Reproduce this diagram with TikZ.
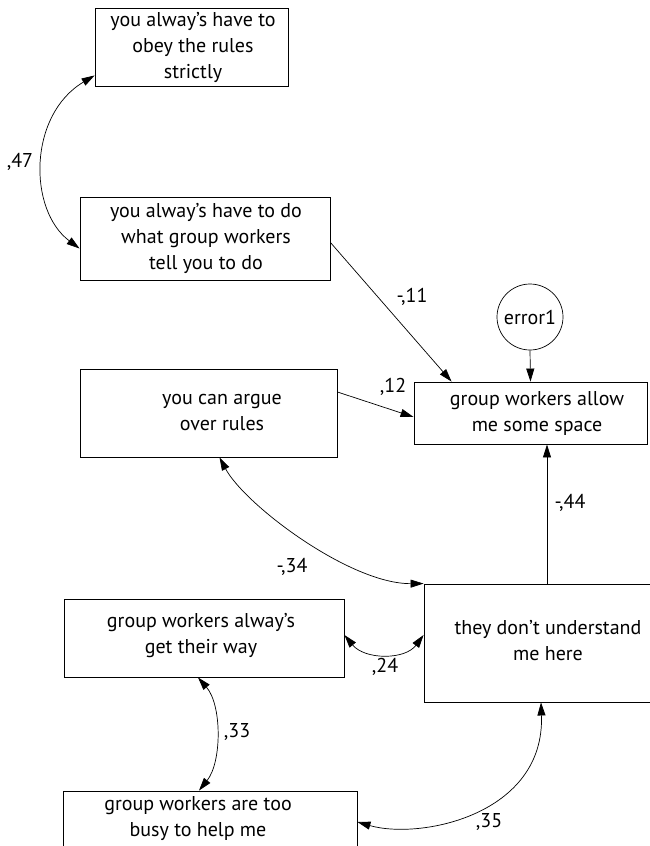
\documentclass[tikz,border=0pt]{standalone}
\usepackage{fontspec}
\setmainfont{PT Sans}[Ligatures=ResetAll]
\usetikzlibrary{arrows.meta,calc}
\begin{document}
\begin{tikzpicture}[x=1pt,y=-1pt,
  every node/.style={font=\fontsize{20}{26}\selectfont, inner sep=0pt},
  var/.style={draw, line width=0.9pt, minimum width=#1},
  lbl/.style={align=center},
  tip/.style={-{Triangle[length=13pt,width=8pt]}},
  dtip/.style={{Triangle[length=13pt,width=8pt]}-{Triangle[length=13pt,width=8pt]}},
  conn/.style={line width=0.7pt}]
\useasboundingbox (0,0) rectangle (650,846);

% observed variables
\node[var=193pt, minimum height=78pt] (b1) at (191.5,47) {};
\node[var=250pt, minimum height=83pt] (b2) at (205,238.5) {};
\node[var=257pt, minimum height=88pt] (b3) at (208.5,413) {};
\node[var=233pt, minimum height=62pt] (b4) at (530.5,413) {};
\node[var=248pt, minimum height=118pt] (b5) at (548,643) {};
\node[var=280pt, minimum height=78pt] (b6) at (204,638) {};
\node[var=294pt, minimum height=60pt] (b7) at (210,821) {};
\node[draw, circle, line width=0.7pt, minimum size=66pt] (e1) at (530,317) {};

% box texts
\node[lbl] (t1) at (193,47) {you alway's have to\\obey the rules\\strictly};
\node[lbl] (t2) at (206,238) {you alway's have to do\\what group workers\\tell you to do};
\node[lbl] (t3) at (222,412) {you can argue\\over rules};
\node[lbl] (t4) at (537,413) {group workers allow\\me some space};
\node[lbl] (t5) at (548,641) {they don't understand\\me here};
\node[lbl] (t6) at (201,636) {group workers alway's\\get their way};
\node[lbl] (t7) at (198,819) {group workers are too\\busy to help me};
\node (te) at (530,317) {error1};

% regression paths
\coordinate (p44) at ($(b5.north)+(-1,0)$);
\draw[conn,tip] ($(b2.east)+(0,4)$) -- ($(b4.north west)+(38,0)$);
\draw[conn,tip] ($(b3.east)+(0,-21)$) -- ($(b4.west)+(0,4)$);
\draw[conn,tip] (e1.south) -- (b4.north);
\draw[conn,tip] (p44) -- (p44 |- b4.south);

% covariances
\draw[conn,dtip] ($(b1.south west)+(0,-11)$) .. controls (28,115) and (28,210) .. ($(b2.west)+(0,10)$);
\draw[conn,dtip] ($(b3.south)+(11,0)$) .. controls (245,505) and (350,584) .. (b5.north west);
\draw[conn,dtip] ($(b6.east)+(0,-3)$) .. controls (365,660) and (405,660) .. ($(b5.west)+(0,-8)$);
\draw[conn,dtip] ($(b6.south)+(-6,0)$) .. controls (222,705) and (222,762) .. ($(b7.north)+(-11,0)$);
\draw[conn,dtip] ($(b7.east)+(0,1)$) .. controls (420,840) and (545,815) .. ($(b5.south)+(-7,0)$);

% coefficients
\node (c47) at (20,162) {,47};
\node (c11) at (412,297) {-,11};
\node (c12) at (393,387) {,12};
\node (c44) at (570,503) {-,44};
\node (c34) at (292,567) {-,34};
\node (c24) at (385,667) {,24};
\node (c33) at (237,732) {,33};
\node (c35) at (489,822) {,35};
\end{tikzpicture}
\end{document}
